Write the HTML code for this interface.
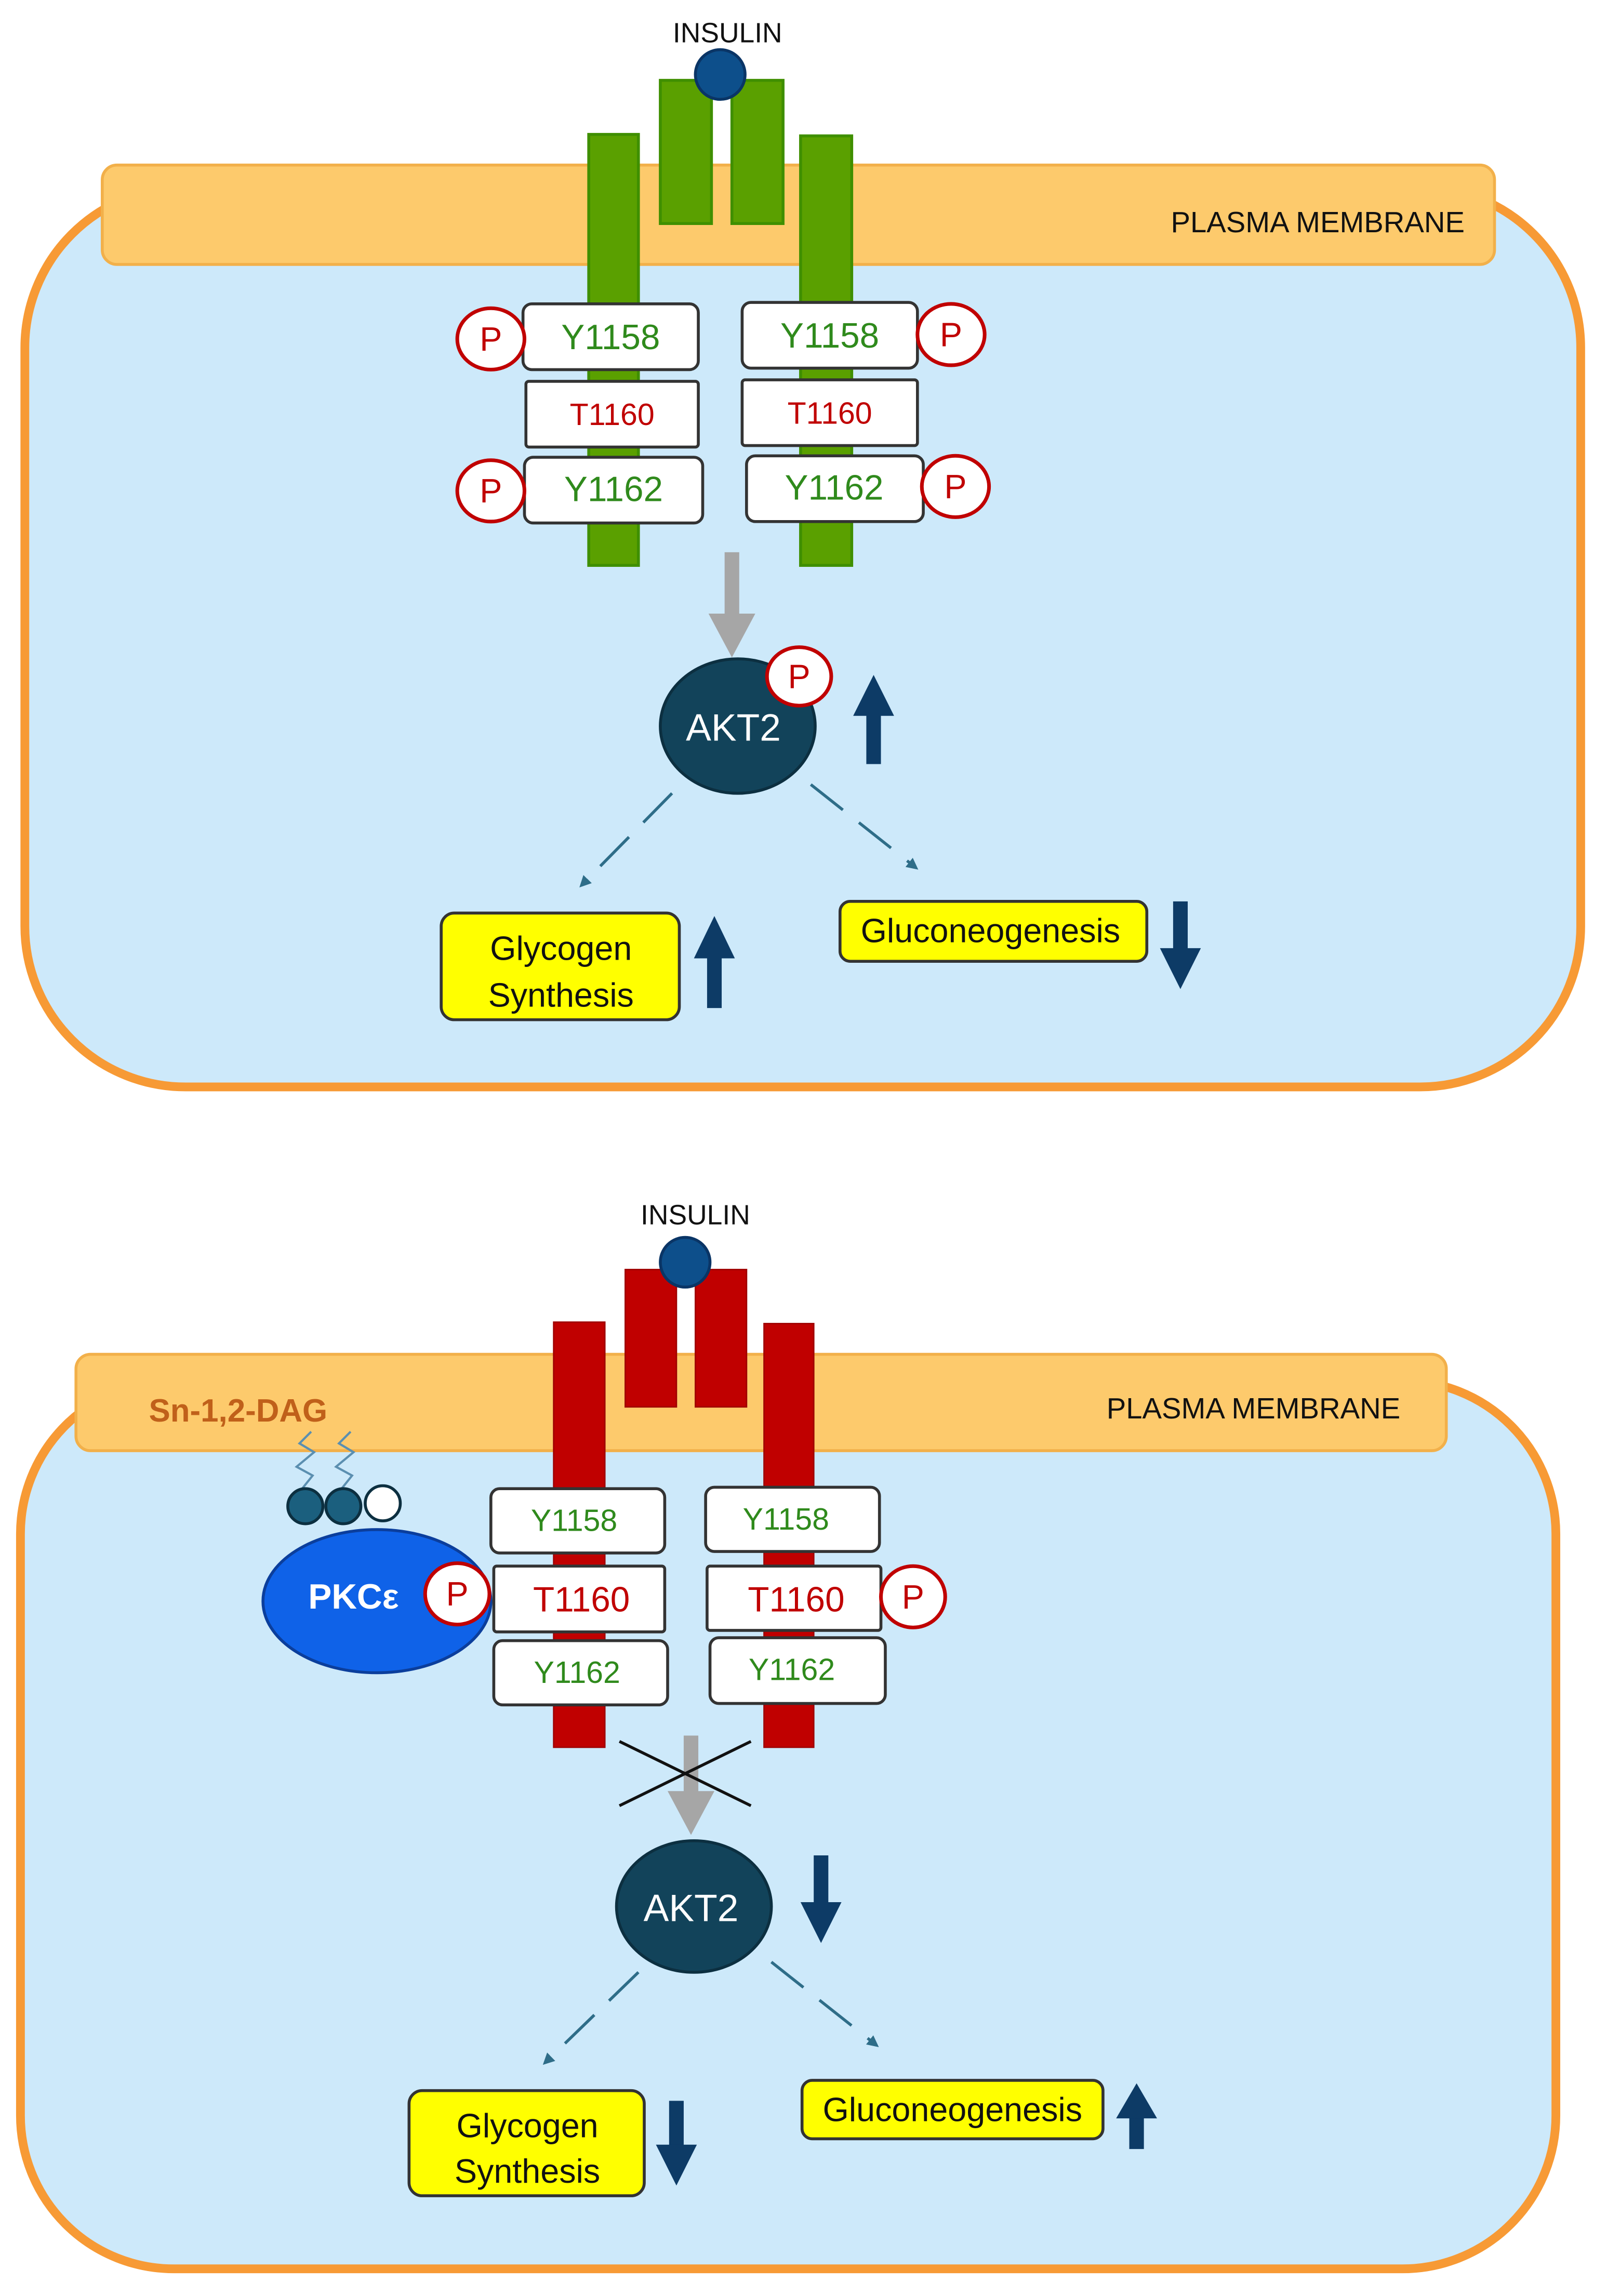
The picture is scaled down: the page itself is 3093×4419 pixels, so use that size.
<!DOCTYPE html>
<html><head><meta charset="utf-8"><style>
html,body{margin:0;padding:0;background:#fff}
svg{display:block}
text{font-family:"Liberation Sans",sans-serif}
</style></head><body>
<svg width="3093" height="4419" viewBox="0 0 1100 1571.6" preserveAspectRatio="none" xmlns="http://www.w3.org/2000/svg">
<defs>
<marker id="ah" markerWidth="8" markerHeight="8" refX="6" refY="4" orient="auto" markerUnits="userSpaceOnUse"><path d="M0,0 L8,4 L0,8 z" fill="#2e6d88"/></marker>
</defs>
<rect width="1100" height="1571.6" fill="#fff"/>

<!-- ================= TOP PANEL ================= -->
<rect x="17" y="128" width="1065" height="616" rx="110" fill="#cde9fa" stroke="#f79a35" stroke-width="6"/>
<rect x="70" y="113" width="953" height="68" rx="10" fill="#fdca6c" stroke="#f2b04a" stroke-width="2"/>
<text x="902" y="159" font-size="20" text-anchor="middle" fill="#111">PLASMA MEMBRANE</text>

<g fill="#5aa000" stroke="#3f8f00" stroke-width="2">
<rect x="403" y="92" width="34" height="295"/>
<rect x="548" y="93" width="35" height="294"/>
<rect x="452" y="55" width="35" height="98"/>
<rect x="501" y="55" width="35" height="98"/>
</g>
<circle cx="493" cy="51" r="17" fill="#0d4f8b" stroke="#0a3566" stroke-width="2"/>
<text x="498" y="29" font-size="19" text-anchor="middle" fill="#111">INSULIN</text>

<g fill="#fff" stroke="#333" stroke-width="2">
<rect x="358" y="208" width="120" height="45" rx="6"/>
<rect x="360" y="261" width="118" height="45" rx="2"/>
<rect x="359" y="313" width="122" height="45" rx="6"/>
<rect x="508" y="207" width="120" height="45" rx="6"/>
<rect x="508" y="260" width="120" height="45" rx="2"/>
<rect x="511" y="312" width="121" height="45" rx="6"/>
</g>
<g font-size="24" fill="#2f8a1c" text-anchor="middle">
<text x="418" y="239">Y1158</text><text x="420" y="343">Y1162</text>
<text x="568" y="238">Y1158</text><text x="571" y="342">Y1162</text>
</g>
<g font-size="21" fill="#c00000" text-anchor="middle">
<text x="419" y="291">T1160</text><text x="568" y="290">T1160</text>
</g>
<g fill="#fff" stroke="#c00000" stroke-width="2.5">
<ellipse cx="336" cy="232" rx="23" ry="21"/><ellipse cx="336" cy="336" rx="23" ry="21"/>
<ellipse cx="651" cy="229" rx="23" ry="21"/><ellipse cx="654" cy="333" rx="23" ry="21"/>
</g>
<g font-size="23" fill="#c00000" text-anchor="middle">
<text x="336" y="240">P</text><text x="336" y="344">P</text>
<text x="651" y="237">P</text><text x="654" y="341">P</text>
</g>

<!-- gray arrow -->
<rect x="496" y="378" width="10" height="44" fill="#a6a6a6"/>
<path d="M485,420 L517,420 L501,450 z" fill="#a6a6a6"/>

<ellipse cx="505" cy="497" rx="53" ry="46" fill="#12435a" stroke="#0c2f40" stroke-width="2"/>
<text x="502" y="507" font-size="26" fill="#fff" text-anchor="middle">AKT2</text>
<ellipse cx="547" cy="463" rx="22" ry="20" fill="#fff" stroke="#c00000" stroke-width="2.5"/>
<text x="547" y="471" font-size="23" fill="#c00000" text-anchor="middle">P</text>

<!-- up arrow -->
<rect x="593" y="488" width="10" height="35" fill="#0d3b66"/>
<path d="M584,490 L612,490 L598,462 z" fill="#0d3b66"/>

<g stroke="#2e6d88" stroke-width="2" stroke-dasharray="28,14" fill="none" marker-end="url(#ah)">
<line x1="460" y1="543" x2="398" y2="606"/>
<line x1="555" y1="537" x2="627" y2="594"/>
</g>

<rect x="302" y="625" width="163" height="73" rx="9" fill="#ffff00" stroke="#333" stroke-width="2"/>
<text x="384" y="657" font-size="23" text-anchor="middle" fill="#111">Glycogen</text>
<text x="384" y="689" font-size="23" text-anchor="middle" fill="#111">Synthesis</text>
<rect x="484" y="654" width="10" height="36" fill="#0d3b66"/>
<path d="M475,656 L503,656 L489,627 z" fill="#0d3b66"/>

<rect x="575" y="617" width="210" height="41" rx="7" fill="#ffff00" stroke="#333" stroke-width="2"/>
<text x="678" y="645" font-size="23" text-anchor="middle" fill="#111">Gluconeogenesis</text>
<rect x="803" y="617" width="10" height="34" fill="#0d3b66"/>
<path d="M794,649 L822,649 L808,677 z" fill="#0d3b66"/>

<!-- ================= BOTTOM PANEL ================= -->
<rect x="14" y="945" width="1051" height="608" rx="105" fill="#cde9fa" stroke="#f79a35" stroke-width="6"/>
<rect x="52" y="927" width="938" height="66" rx="10" fill="#fdca6c" stroke="#f2b04a" stroke-width="2"/>
<text x="858" y="971" font-size="20" text-anchor="middle" fill="#111">PLASMA MEMBRANE</text>
<text x="163" y="973" font-size="22" font-weight="bold" text-anchor="middle" fill="#c0601a">Sn-1,2-DAG</text>

<g fill="#c00000" stroke="#a00000" stroke-width="1">
<rect x="379" y="905" width="35" height="291"/>
<rect x="523" y="906" width="34" height="290"/>
<rect x="428" y="869" width="35" height="94"/>
<rect x="476" y="869" width="35" height="94"/>
</g>
<circle cx="469" cy="864" r="17" fill="#0d4f8b" stroke="#0a3566" stroke-width="2"/>
<text x="476" y="838" font-size="19" text-anchor="middle" fill="#111">INSULIN</text>

<g fill="#fff" stroke="#333" stroke-width="2">
<rect x="336" y="1019" width="119" height="44" rx="6"/>
<rect x="338" y="1072" width="117" height="45" rx="2"/>
<rect x="338" y="1123" width="119" height="44" rx="6"/>
<rect x="483" y="1018" width="119" height="44" rx="6"/>
<rect x="484" y="1072" width="119" height="44" rx="2"/>
<rect x="486" y="1121" width="120" height="45" rx="6"/>
</g>
<g font-size="21" fill="#2f8a1c" text-anchor="middle">
<text x="393" y="1048">Y1158</text><text x="395" y="1152">Y1162</text>
<text x="538" y="1047">Y1158</text><text x="542" y="1150">Y1162</text>
</g>
<g font-size="24" fill="#c00000" text-anchor="middle">
<text x="398" y="1103">T1160</text><text x="545" y="1103">T1160</text>
</g>

<!-- PKC -->
<g fill="none" stroke="#5b8fb0" stroke-width="1.5">
<path d="M213,980 L205,988 L215,994 L203,1004 L214,1010 L206,1020"/>
<path d="M240,980 L232,988 L242,994 L230,1004 L241,1010 L233,1020"/>
</g>
<g stroke="#0c2f40" stroke-width="2">
<ellipse cx="209" cy="1031" rx="12" ry="12" fill="#1b5f7e"/>
<ellipse cx="235" cy="1031" rx="12" ry="12" fill="#1b5f7e"/>
<ellipse cx="262" cy="1029" rx="12" ry="12" fill="#fff"/>
</g>
<ellipse cx="258" cy="1096" rx="78" ry="49" fill="#0f62e8" stroke="#0b3e9c" stroke-width="2"/>
<text x="242" y="1101" font-size="24" font-weight="bold" fill="#fff" text-anchor="middle">PKCε</text>
<g fill="#fff" stroke="#c00000" stroke-width="2.5">
<ellipse cx="313" cy="1091" rx="22" ry="21"/>
<ellipse cx="625" cy="1093" rx="22" ry="21"/>
</g>
<g font-size="23" fill="#c00000" text-anchor="middle">
<text x="313" y="1099">P</text><text x="625" y="1101">P</text>
</g>

<rect x="468" y="1188" width="10" height="40" fill="#a6a6a6"/>
<path d="M457,1226 L489,1226 L473,1256 z" fill="#a6a6a6"/>
<g stroke="#111" stroke-width="2">
<line x1="424" y1="1192" x2="514" y2="1236"/>
<line x1="424" y1="1236" x2="514" y2="1192"/>
</g>

<ellipse cx="475" cy="1305" rx="53" ry="45" fill="#12435a" stroke="#0c2f40" stroke-width="2"/>
<text x="473" y="1315" font-size="26" fill="#fff" text-anchor="middle">AKT2</text>
<rect x="557" y="1270" width="10" height="34" fill="#0d3b66"/>
<path d="M548,1302 L576,1302 L562,1330 z" fill="#0d3b66"/>

<g stroke="#2e6d88" stroke-width="2" stroke-dasharray="28,14" fill="none" marker-end="url(#ah)">
<line x1="437" y1="1350" x2="373" y2="1412"/>
<line x1="528" y1="1343" x2="600" y2="1400"/>
</g>

<rect x="280" y="1431" width="161" height="72" rx="9" fill="#ffff00" stroke="#333" stroke-width="2"/>
<text x="361" y="1463" font-size="23" text-anchor="middle" fill="#111">Glycogen</text>
<text x="361" y="1494" font-size="23" text-anchor="middle" fill="#111">Synthesis</text>
<rect x="458" y="1438" width="10" height="32" fill="#0d3b66"/>
<path d="M449,1468 L477,1468 L463,1496 z" fill="#0d3b66"/>

<rect x="549" y="1424" width="206" height="40" rx="7" fill="#ffff00" stroke="#333" stroke-width="2"/>
<text x="652" y="1452" font-size="23" text-anchor="middle" fill="#111">Gluconeogenesis</text>
<rect x="773" y="1446" width="10" height="25" fill="#0d3b66"/>
<path d="M764,1450 L792,1450 L778,1426 z" fill="#0d3b66"/>
</svg>
</body></html>
